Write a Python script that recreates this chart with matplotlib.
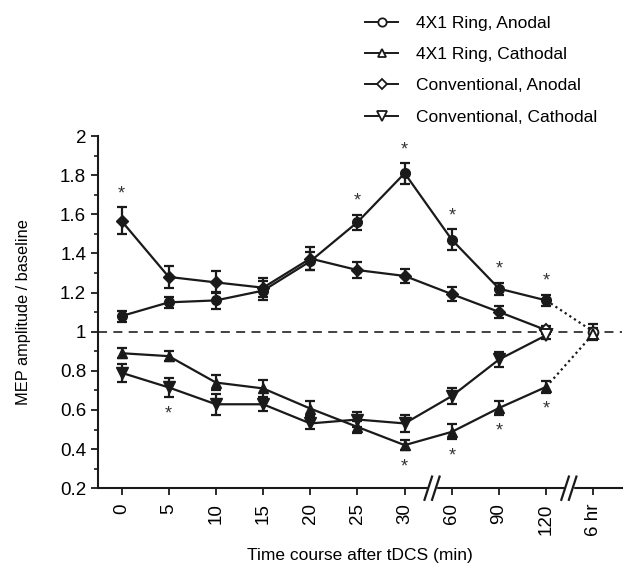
import numpy as np
import matplotlib.pyplot as plt
from matplotlib.ticker import MultipleLocator

plt.rcParams["font.family"] = ["Liberation Sans", "DejaVu Sans"]

# -------- Data --------------------------------
tick_labels = ["0", "5", "10", "15", "20", "25", "30", "60", "90", "120", "6 hr"]
x = np.arange(len(tick_labels))

ring_an = [1.08, 1.15, 1.16, 1.21, 1.36, 1.56, 1.81, 1.47, 1.22, 1.16, 1.00]
ring_an_err = [0.028, 0.028, 0.043, 0.05, 0.045, 0.038, 0.053, 0.053, 0.03, 0.029, 0.037]

ring_cat = [0.89, 0.875, 0.74, 0.71, 0.607, 0.513, 0.42, 0.488, 0.61, 0.718, 0.99]
ring_cat_err = [0.026, 0.026, 0.038, 0.044, 0.038, 0.03, 0.026, 0.038, 0.036, 0.032, 0.03]

conv_an = [1.566, 1.28, 1.252, 1.225, 1.374, 1.315, 1.285, 1.192, 1.101, 1.008]
conv_an_err = [0.069, 0.055, 0.056, 0.05, 0.057, 0.042, 0.034, 0.034, 0.03, 0.02]

conv_cat = [0.79, 0.715, 0.629, 0.629, 0.531, 0.551, 0.531, 0.671, 0.858, 0.982]
conv_cat_err = [0.047, 0.05, 0.055, 0.034, 0.03, 0.038, 0.043, 0.043, 0.037, 0.02]

# significance stars: (series, index)
stars_up = [("conv_an", 0), ("ring_an", 5), ("ring_an", 6), ("ring_an", 7), ("ring_an", 8), ("ring_an", 9)]
stars_down = [("conv_cat", 1), ("ring_cat", 6), ("ring_cat", 7), ("ring_cat", 8), ("ring_cat", 9)]

series = {
    "ring_an": (ring_an, ring_an_err),
    "ring_cat": (ring_cat, ring_cat_err),
    "conv_an": (conv_an, conv_an_err),
    "conv_cat": (conv_cat, conv_cat_err),
}

fig = plt.figure(figsize=(6.28, 5.67), dpi=100)
ax = fig.add_axes([0.156, 0.139, 0.834, 0.621])

k = "#1a1a1a"
eb = dict(ecolor=k, elinewidth=1.6, capsize=3.5, capthick=1.6)

ax.axhline(1.0, color="#333333", lw=1.3, ls=(0, (5, 3.5)), zorder=1)


def draw(vals, errs, marker, ms, n_solid, open_last=False, dotted_tail=False):
    v = np.asarray(vals)
    e = np.asarray(errs)
    xs = x[:len(v)]
    ax.plot(xs[:n_solid], v[:n_solid], color=k, lw=1.6, zorder=3)
    if dotted_tail:
        ax.plot(xs[n_solid - 1:], v[n_solid - 1:], color=k, lw=1.6, ls=(0, (1, 1.5)), zorder=3)
    ax.errorbar(xs, v, yerr=e, fmt="none", zorder=4, **eb)
    n_fill = len(v) - 1 if open_last else len(v)
    if dotted_tail:
        n_fill = n_solid
    ax.plot(xs[:n_fill], v[:n_fill], ls="none", marker=marker, ms=ms, mfc=k, mec=k, zorder=5)
    if n_fill < len(v):
        ax.plot(xs[n_fill:], v[n_fill:], ls="none", marker=marker, ms=ms, mfc="white", mec=k,
                mew=1.4, zorder=6)


draw(ring_an, ring_an_err, "o", 7, 10, dotted_tail=True)
draw(ring_cat, ring_cat_err, "^", 7.5, 10, dotted_tail=True)
draw(conv_an, conv_an_err, "D", 6.5, 10, open_last=True)
draw(conv_cat, conv_cat_err, "v", 8, 10, open_last=True)

for name, i in stars_up:
    v, e = series[name]
    ax.text(i, v[i] + e[i] + 0.025, "*", ha="center", va="bottom", fontsize=13, color="#333333")
for name, i in stars_down:
    v, e = series[name]
    ax.text(i, v[i] - e[i] - 0.04, "*", ha="center", va="top", fontsize=13, color="#333333")

# legend (open markers, placed above the axes)
handles = [
    plt.Line2D([], [], color=k, lw=1.4, marker="o", ms=6, mfc="white", mec=k, mew=1.3),
    plt.Line2D([], [], color=k, lw=1.4, marker="^", ms=6, mfc="white", mec=k, mew=1.3),
    plt.Line2D([], [], color=k, lw=1.4, marker="D", ms=5, mfc="white", mec=k, mew=1.3),
    plt.Line2D([], [], color=k, lw=1.4, marker="v", ms=6.5, mfc="white", mec=k, mew=1.3),
]
labels = ["4X1 Ring, Anodal", "4X1 Ring, Cathodal", "Conventional, Anodal", "Conventional, Cathodal"]
fig.legend(handles, labels, loc="upper left", bbox_to_anchor=(0.557, 1.0), frameon=False,
           fontsize=12.5, handlelength=1.9, labelspacing=0.93, handletextpad=1.0)

ax.set_xlim(-0.5, 10.6)
ax.set_ylim(0.2, 2.0)
ax.set_xticks(x)
ax.set_xticklabels(tick_labels, rotation=90, fontsize=13.5)
ax.yaxis.set_minor_locator(MultipleLocator(0.1))
ax.set_yticks([0.2, 0.4, 0.6, 0.8, 1.0, 1.2, 1.4, 1.6, 1.8, 2.0])
ax.set_yticklabels(["0.2", "0.4", "0.6", "0.8", "1", "1.2", "1.4", "1.6", "1.8", "2"], fontsize=13.5)
ax.tick_params(axis="both", which="major", direction="out", length=5, width=1.3, color=k)
ax.tick_params(axis="y", which="minor", direction="out", length=3, width=1.2, color=k)
ax.tick_params(axis="x", which="major", pad=6)
for s in ["top", "right"]:
    ax.spines[s].set_visible(False)
for s in ["left", "bottom"]:
    ax.spines[s].set_linewidth(1.5)
    ax.spines[s].set_color(k)

ax.set_ylabel("MEP amplitude / baseline", fontsize=11.8)
ax.yaxis.set_label_coords(-0.128, 0.5)
ax.set_xlabel("Time course after tDCS (min)", fontsize=12.5)
ax.xaxis.set_label_coords(0.5, -0.17)

# axis break marks
trans = ax.get_xaxis_transform()
for bx in [6.58, 9.48]:
    ax.fill_between([bx - 0.08, bx + 0.08], -0.01, 0.01, color="white", transform=trans,
                    clip_on=False, zorder=10)
    for dx in [-0.08, 0.08]:
        ax.plot([bx + dx - 0.08, bx + dx + 0.08], [-0.033, 0.033], color=k, lw=1.6,
                transform=trans, clip_on=False, zorder=11)

fig.savefig("out.png", dpi=100)
